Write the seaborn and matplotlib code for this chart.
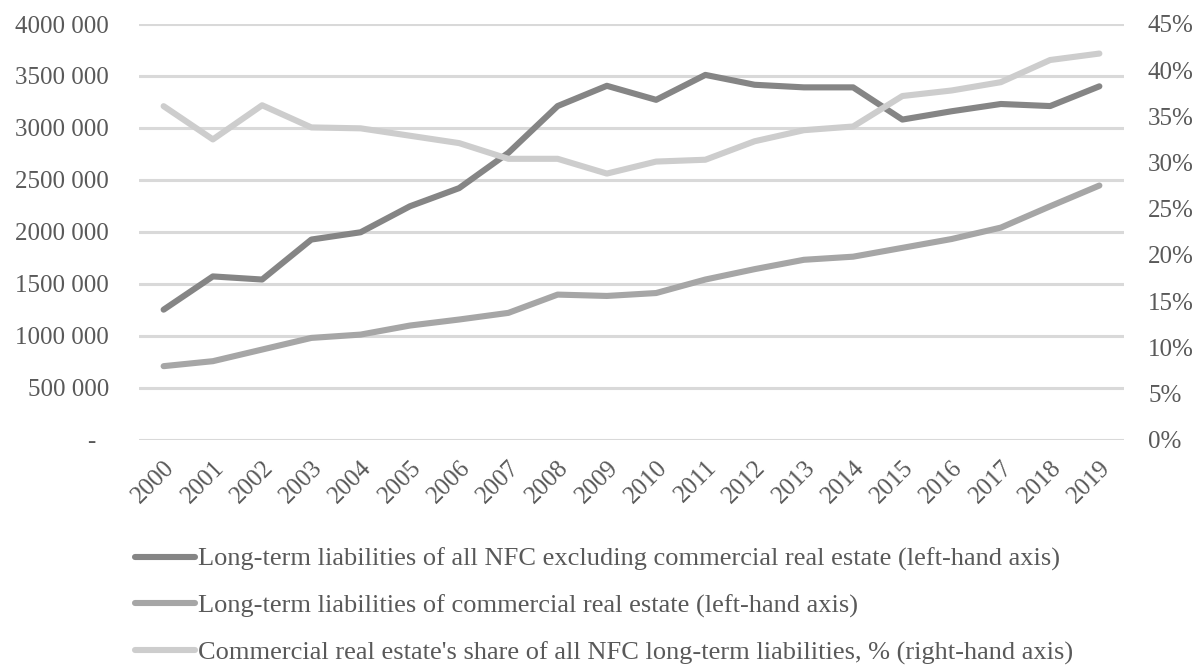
import matplotlib
matplotlib.use("Agg")
import matplotlib.pyplot as plt
from matplotlib.ticker import FuncFormatter, PercentFormatter
import numpy as np
import pandas as pd
import seaborn as sns

years = list(range(2000, 2020))

# Long-term liabilities of non-financial corporations excluding commercial real estate
nfc_excl_cre = [1250000, 1570000, 1540000, 1925000, 1995000, 2245000, 2420000, 2760000,
                3210000, 3405000, 3270000, 3510000, 3415000, 3390000, 3390000, 3080000,
                3160000, 3230000, 3210000, 3400000]

# Long-term liabilities of commercial real estate
cre = [706000, 754000, 866000, 978000, 1010000, 1097000, 1155000, 1219000,
       1395000, 1382000, 1410000, 1540000, 1640000, 1730000, 1760000, 1845000,
       1930000, 2040000, 2245000, 2445000]

# Commercial real estate's share of all NFC long-term liabilities (%)
cre_share = [36.1, 32.5, 36.2, 33.8, 33.7, 32.9, 32.1, 30.4, 30.4, 28.8,
             30.1, 30.3, 32.3, 33.5, 33.9, 37.2, 37.8, 38.7, 41.1, 41.8]

left_ticks = [0, 500000, 1000000, 1500000, 2000000, 2500000, 3000000, 3500000, 4000000]
right_ticks = [0, 5, 10, 15, 20, 25, 30, 35, 40, 45]

labels = [
    "Long-term liabilities of all NFC excluding commercial real estate (left-hand axis)",
    "Long-term liabilities of commercial real estate (left-hand axis)",
    "Commercial real estate's share of all NFC long-term liabilities, % (right-hand axis)",
]
colors = ["#858585", "#a6a6a6", "#cdcdcd"]

df = pd.DataFrame({"year": years, "nfc": nfc_excl_cre, "cre": cre, "share": cre_share})

sns.set_theme(style="white")
plt.rcParams["font.family"] = ["Liberation Serif", "DejaVu Serif"]
text_color = "#595959"
fs_tick = 18
fs_leg = 19
px = 72 / 100  # points per pixel at dpi 100

fig = plt.figure(figsize=(12, 6.65), dpi=100)
ax = fig.add_axes([139 / 1200, 1 - 439.5 / 665, (1124 - 139) / 1200, (439.5 - 24) / 665])
ax2 = ax.twinx()

lw = 4.4
sns.lineplot(data=df, x="year", y="nfc", ax=ax, color=colors[0], linewidth=lw,
             label=labels[0], legend=False, solid_capstyle="round")
sns.lineplot(data=df, x="year", y="cre", ax=ax, color=colors[1], linewidth=lw,
             label=labels[1], legend=False, solid_capstyle="round")
sns.lineplot(data=df, x="year", y="share", ax=ax2, color=colors[2], linewidth=lw,
             label=labels[2], legend=False, solid_capstyle="round")

ax.set_xlim(1999.5, 2019.5)
ax.set_ylim(0, 4000000)
ax2.set_ylim(0, 45)
ax.set_yticks(left_ticks)
ax2.set_yticks(right_ticks)
ax.set_xticks(years)
ax.set_xticklabels([str(y) for y in years], rotation=45, ha="right", va="top",
                   rotation_mode="anchor")


def fmt_left(v, pos):
    v = int(round(v))
    if v == 0:
        return "-  "
    return f"{v // 1000} {v % 1000:03d}"


ax.yaxis.set_major_formatter(FuncFormatter(fmt_left))
ax2.yaxis.set_major_formatter(PercentFormatter(decimals=0))

ax.grid(axis="y", color="#d9d9d9", linewidth=2.2)
ax.grid(axis="x", visible=False)
ax2.grid(False)
for a in (ax, ax2):
    for s in a.spines.values():
        s.set_visible(False)
    a.set_xlabel("")
    a.set_ylabel("")

ax.tick_params(axis="y", length=0, pad=30 * px, labelsize=fs_tick, labelcolor=text_color)
ax.tick_params(axis="x", length=0, pad=17 * px, labelsize=fs_tick, labelcolor=text_color)
ax2.tick_params(axis="y", length=0, pad=24 * px, labelsize=fs_tick, labelcolor=text_color)

handles = ax.get_lines()[:2] + ax2.get_lines()[:1]
leg = fig.legend(handles, labels, loc="upper left", bbox_to_anchor=(124 / 1200, 1 - 537 / 665),
                 frameon=False, fontsize=fs_leg, handlelength=2.3, handletextpad=0.12,
                 labelspacing=0.86, borderaxespad=0)
for t in leg.get_texts():
    t.set_color(text_color)

fig.savefig("out.png", dpi=100)
